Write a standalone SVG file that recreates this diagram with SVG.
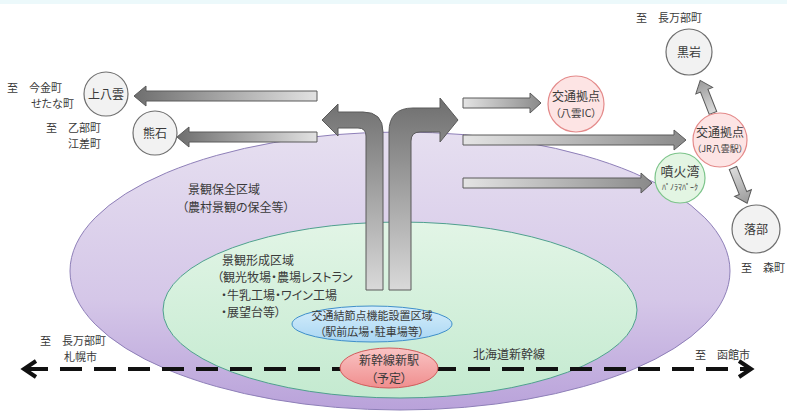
<svg xmlns="http://www.w3.org/2000/svg" width="787" height="420" viewBox="0 0 787 420">
<defs>
<linearGradient id="gPurple" x1="0" y1="0" x2="0" y2="1">
<stop offset="0" stop-color="#e6dff0"/><stop offset="0.6" stop-color="#d5c7e8"/><stop offset="1" stop-color="#b9a2da"/>
</linearGradient>
<linearGradient id="gGreen" x1="0" y1="0" x2="0" y2="1">
<stop offset="0" stop-color="#e2f5e6"/><stop offset="1" stop-color="#c4ead0"/>
</linearGradient>
<linearGradient id="gBlue" x1="0" y1="0" x2="0" y2="1">
<stop offset="0" stop-color="#d6eefb"/><stop offset="1" stop-color="#a9d6f3"/>
</linearGradient>
<linearGradient id="gRed" x1="0" y1="0" x2="0" y2="1">
<stop offset="0" stop-color="#f9c4c4"/><stop offset="1" stop-color="#f08e8e"/>
</linearGradient>
<linearGradient id="gVert" gradientUnits="userSpaceOnUse" x1="0" y1="100" x2="0" y2="290">
<stop offset="0" stop-color="#6f6f6f"/><stop offset="1" stop-color="#d9d9d9"/>
</linearGradient>
<linearGradient id="gLeft" x1="0" y1="0" x2="1" y2="0">
<stop offset="0" stop-color="#6e6e6e"/><stop offset="1" stop-color="#e2e2e2"/>
</linearGradient>
<linearGradient id="gRight" x1="0" y1="0" x2="1" y2="0">
<stop offset="0" stop-color="#e4e4e4"/><stop offset="1" stop-color="#8a8a8a"/>
</linearGradient>
<linearGradient id="gSmall" x1="0" y1="0" x2="1" y2="0">
<stop offset="0" stop-color="#dcdcdc"/><stop offset="1" stop-color="#9a9a9a"/>
</linearGradient>
<style>
text{font-family:"Noto Sans CJK JP","Noto Sans",sans-serif;fill:#3a3a3a;font-size:12px;font-feature-settings:"palt"}
.c{text-anchor:middle}
.s{font-size:11px}
.gray{fill:#f2f2f2;stroke:#6f6f6f;stroke-width:1.2}
.pink{fill:#fde4e4;stroke:#e48a8a;stroke-width:1.2}
.green{fill:#e3f5e3;stroke:#7cc48a;stroke-width:1.2}
.arr{stroke:#5a5a5a;stroke-width:1}
.dash{stroke:#111;stroke-width:4;fill:none}
</style>
</defs>
<rect x="0" y="0" width="787" height="420" fill="#ffffff"/>
<rect x="0" y="0" width="787" height="4" fill="#ecf9fb"/>

<g id="zone-preserve">
<ellipse cx="400" cy="271" rx="330" ry="139" fill="url(#gPurple)" stroke="#8e7fb8" stroke-width="1"/>
</g>
<g id="zone-form">
<ellipse cx="400" cy="310" rx="237" ry="88" fill="url(#gGreen)" stroke="#4fa08e" stroke-width="1"/>
</g>
<g id="zone-node">
<ellipse cx="372" cy="324" rx="80" ry="18" fill="url(#gBlue)" stroke="#3f8fc9" stroke-width="1"/>
</g>

<g id="connectors">
<line class="dash" x1="26" y1="369" x2="748" y2="369" stroke-dasharray="22 12"/>
<polyline class="dash" points="36,361 24,369 36,377"/>
<polyline class="dash" points="739,361 751,369 739,377"/>
<path class="arr" fill="url(#gVert)" d="M366,290 L366,136 Q366,128 358,128 L338,128 L338,136 L322,120 L338,104 L338,112 L363,112 Q383,112 383,132 L383,290 Z"/>
<path class="arr" fill="url(#gVert)" d="M389,290 L389,132 Q389,108 413,108 L440,108 L440,98 L458,120 L440,142 L440,132 L420,132 Q411,132 411,141 L411,290 Z"/>
<path class="arr" fill="url(#gLeft)" d="M317,91 L146,91 L146,86 L134,96 L146,106 L146,101 L317,101 Z"/>
<path class="arr" fill="url(#gLeft)" d="M317,132 L189,132 L189,127 L177,137 L189,147 L189,142 L317,142 Z"/>
<path class="arr" fill="url(#gRight)" d="M463,98 L530,98 L530,93 L541,103 L530,113 L530,108 L463,108 Z"/>
<path class="arr" fill="url(#gRight)" d="M463,135 L674,135 L674,130 L686,140 L674,150 L674,145 L463,145 Z"/>
<path class="arr" fill="url(#gRight)" d="M463,178 L641,178 L641,173 L652,183 L641,193 L641,188 L463,188 Z"/>
<path class="arr" fill="url(#gSmall)" transform="translate(713,113) rotate(-111.5)" d="M0,-4 L24,-4 L24,-9 L35,0 L24,9 L24,4 L0,4 Z"/>
<path class="arr" fill="url(#gSmall)" transform="translate(733,168) rotate(68.2)" d="M0,-4 L27,-4 L27,-9 L38,0 L27,9 L27,4 L0,4 Z"/>
</g>

<g id="station">
<ellipse cx="389" cy="368" rx="49" ry="20" fill="url(#gRed)" stroke="#d05c5c" stroke-width="1"/>
<text class="c" x="389" y="365">新幹線新駅<tspan x="389" dy="17.5">（予定）</tspan></text>
</g>

<g id="kamiyakumo"><circle class="gray" cx="106" cy="94" r="22"/><text class="c" x="106" y="98.5">上八雲</text></g>
<g id="kumaishi"><circle class="gray" cx="155" cy="133" r="22"/><text class="c" x="155" y="137.5">熊石</text></g>
<g id="kuroiwa"><circle class="gray" cx="689" cy="52" r="23"/><text class="c" x="689" y="56.5">黒岩</text></g>
<g id="otoshibe"><circle class="gray" cx="756" cy="229" r="24"/><text class="c" x="756" y="233.5">落部</text></g>
<g id="hub-ic"><circle class="pink" cx="576" cy="104" r="28"/><text class="c" x="576" y="101">交通拠点<tspan x="576" dy="16" style="font-size:10.5px">（八雲IC）</tspan></text></g>
<g id="hub-jr"><circle class="pink" cx="720" cy="140" r="27"/><text class="c" x="720" y="137">交通拠点<tspan x="720" dy="14.5" style="font-size:9px">（JR八雲駅）</tspan></text></g>
<g id="funkawan"><circle class="green" cx="680" cy="178" r="25"/><text class="c" x="680" y="176" style="font-size:13px">噴火湾<tspan x="680" dy="14" style="font-size:8px">ﾊﾟﾉﾗﾏﾊﾟｰｸ</tspan></text></g>

<g id="labels">
<text class="s" x="7" y="92">至　今金町<tspan x="31" dy="16">せたな町</tspan></text>
<text class="s" x="101" y="132" text-anchor="end">至　乙部町<tspan x="101" dy="16">江差町</tspan></text>
<text class="s" x="636" y="22">至　長万部町</text>
<text class="s" x="785" y="272" text-anchor="end">至　森町</text>
<text class="s" x="40" y="345">至　長万部町<tspan x="64" dy="16">札幌市</tspan></text>
<text class="s" x="695" y="359">至　函館市</text>
<text x="473" y="358.5">北海道新幹線</text>
<text x="188" y="193.5">景観保全区域<tspan x="182" dy="18">（農村景観の保全等）</tspan></text>
<text x="222" y="264.5">景観形成区域<tspan x="217" dy="17.5">（観光牧場・農場レストラン</tspan><tspan x="221" dy="17.5">・牛乳工場・ワイン工場</tspan><tspan x="221" dy="17.5">・展望台等）</tspan></text>
<text class="c s" x="372" y="320">交通結節点機能設置区域<tspan x="372" dy="16">（駅前広場・駐車場等）</tspan></text>
</g>
</svg>
